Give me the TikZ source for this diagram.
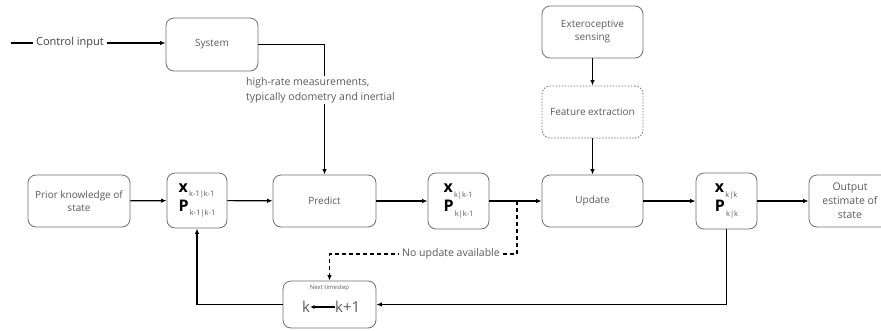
\documentclass[tikz,border=0pt]{standalone}
\usepackage{fontspec}
\setmainfont{Open Sans}
\usetikzlibrary{arrows.meta}
\definecolor{txt}{HTML}{5A5A5A}
\definecolor{bord}{HTML}{6E6E6E}
\newcommand{\xp}[2]{\textbf{#1}\raisebox{-0.55ex}{\color{txt}\fontsize{7.5}{8}\selectfont\,#2}}
\begin{document}
\begin{tikzpicture}[x=1pt,y=-1pt,
  box/.style={draw=bord,line width=0.8pt,rounded corners=8pt,text=txt,align=center,font=\fontsize{10}{13}\selectfont,inner sep=2pt},
  arr/.style={-{Latex[length=5.5pt,width=4.5pt]},line width=1.2pt},
  ln/.style={line width=1.2pt},
  lbl/.style={text=txt,font=\fontsize{10.5}{15}\selectfont,inner sep=1pt}]
\useasboundingbox (0,0) rectangle (881,330);
% nodes
\node[box,minimum width=92,minimum height=53] (system) at (212,44.5) {System};
\node[box,minimum width=101,minimum height=52] (exte) at (592.5,32) {Exteroceptive\\sensing};
\node[box,dashed,dash pattern=on 1.5pt off 1.5pt,minimum width=101,minimum height=52] (feat) at (592.5,112) {Feature extraction};
\node[box,minimum width=102,minimum height=52] (prior) at (79,201) {Prior knowledge of\\state};
\node[box,minimum width=60,minimum height=55,align=left,text=black,font=\fontsize{16}{17}\selectfont] (xkm1) at (197,200.5) {\xp{x}{k-1|k-1}\\\xp{P}{k-1|k-1}};
\node[box,minimum width=103,minimum height=52] (predict) at (324.5,201) {Predict};
\node[box,minimum width=61,minimum height=56,align=left,text=black,font=\fontsize{16}{17}\selectfont] (xkk1) at (458.5,201) {\xp{x}{k|k-1}\\\xp{P}{k|k-1}};
\node[box,minimum width=101,minimum height=52] (update) at (592.5,201) {Update};
\node[box,minimum width=61,minimum height=56,align=left,text=black,font=\fontsize{16}{17}\selectfont] (xkk) at (726.5,201) {\xp{x}{k|k}\\\xp{P}{k|k}};
\node[box,minimum width=110,minimum height=52] (outbox) at (864,201) {};
\node[text=txt,align=center,font=\fontsize{10.5}{14}\selectfont,inner sep=0pt] (output) at (850,201) {Output\\estimate of\\state};
\node[box,minimum width=93,minimum height=47] (next) at (329.5,304.5) {};
\node[text=txt,font=\fontsize{6}{7}\selectfont,inner sep=0pt] (nt) at (329.5,288) {Next timestep};
\node[text=txt,font=\fontsize{15}{16}\selectfont,inner sep=0pt] (kk) at (306,307) {k};
\node[text=txt,font=\fontsize{15}{16}\selectfont,inner sep=0pt,anchor=west] (kk1) at (335,307) {k+1};
\draw[-{Latex[length=4.5pt,width=4pt]},line width=1.1pt] (kk1.west) -- (kk.east);
% control input
\coordinate (cstart) at (11,43);
\node[lbl,text=black!75,font=\fontsize{11}{13}\selectfont,fill=white,inner sep=3pt] (ctrl) at (70,43) {Control input};
\draw[ln] (cstart) -- (ctrl.west);
\draw[arr] (ctrl.east) -- (system.west |- ctrl.east);
% system to predict
\draw[arr] (system.east) -| (predict.north);
\node[lbl,fill=white,anchor=west,align=left] (hr) at (245,90) {high-rate measurements,\\typically odometry and inertial};
% exteroceptive chain
\draw[arr] (exte.south) -- (feat.north);
\draw[arr] (feat.south) -- (update.north);
% main chain
\draw[arr] (prior) -- (xkm1);
\draw[arr] (xkm1) -- (predict);
\draw[arr] (predict) -- (xkk1);
\draw[arr] (xkk1) -- (update);
\draw[arr] (update) -- (xkk);
\draw[arr] (xkk) -- (outbox);
% feedback
\draw[arr] (xkk.south) |- (next.east);
\draw[arr] (next.west) -| (xkm1.south);
% no update
\coordinate (nu) at (517,201);
\coordinate (nu2) at (517,254);
\draw[ln,dashed,dash pattern=on 4pt off 3pt,-{Latex[length=5.5pt,width=4.5pt]}] (nu) -- (nu2) -- (329.5,254) -- (next.north);
\node[lbl,fill=white,inner sep=3pt] (nul) at (451,254) {No update available};
\end{tikzpicture}
\end{document}
